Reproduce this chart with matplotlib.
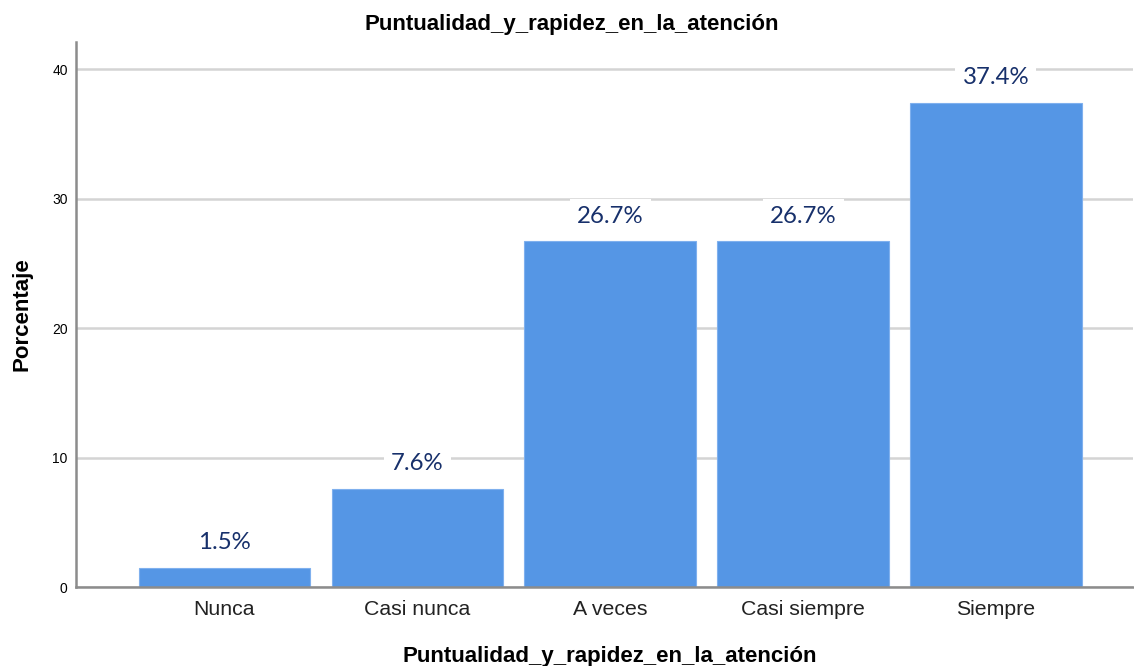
import matplotlib
matplotlib.use("Agg")
import matplotlib.pyplot as plt

categories = ["Nunca", "Casi nunca", "A veces", "Casi siempre", "Siempre"]
percentages = [1.5, 7.6, 26.7, 26.7, 37.4]
y_ticks = [0, 10, 20, 30, 40]
title = "Puntualidad_y_rapidez_en_la_atención"
x_label = "Puntualidad_y_rapidez_en_la_atención"
y_label = "Porcentaje"

bar_color = "#5596e5"
label_color = "#17306b"
grid_color = "#d4d4d4"
axis_color = "#8c8c8c"

fig = plt.figure(figsize=(11.34, 6.66), dpi=100)
ax = fig.add_axes([0.067, 0.1186, 0.932, 0.8183])

x = list(range(len(categories)))
bars = ax.bar(x, percentages, width=0.89, color=bar_color,
              edgecolor="#7fb0ee", linewidth=0.8, zorder=2)

ax.set_xlim(-0.77, 4.71)
ax.set_ylim(0, 42.1)
ax.set_yticks(y_ticks)
ax.set_yticklabels([str(t) for t in y_ticks], fontsize=10, family="Liberation Sans")
ax.set_xticks(x)
ax.set_xticklabels(categories, fontsize=15.3, family="Liberation Sans", color="#222222")
ax.tick_params(axis="both", length=0)
ax.tick_params(axis="x", pad=9)
ax.tick_params(axis="y", pad=6)

ax.yaxis.grid(True, color=grid_color, linewidth=1.8, zorder=0)
ax.set_axisbelow(True)

for side in ("top", "right"):
    ax.spines[side].set_visible(False)
for side in ("left", "bottom"):
    ax.spines[side].set_color(axis_color)
    ax.spines[side].set_linewidth(1.8)

# value labels above each bar, on a white box that interrupts the gridlines
for rect, val in zip(bars, percentages):
    ax.annotate(f"{val:.1f}%",
                xy=(rect.get_x() + rect.get_width() / 2, val),
                xytext=(0, 25), textcoords="offset pixels",
                ha="center", va="center", fontsize=17.3, family="Lato",
                color=label_color, zorder=3,
                bbox=dict(boxstyle="square,pad=0.3", facecolor="white",
                          edgecolor="none"))

fig.text(0.504, 0.963, title, fontsize=16, fontweight="bold",
         family="Liberation Sans", ha="center", va="center")
ax.set_xlabel(x_label, fontsize=16, fontweight="bold", family="Liberation Sans", labelpad=20)
ax.xaxis.label.set_x(0.5055)
ax.set_ylabel(y_label, fontsize=16, fontweight="bold", family="Liberation Sans", labelpad=14)

fig.savefig("out.png", dpi=100)
